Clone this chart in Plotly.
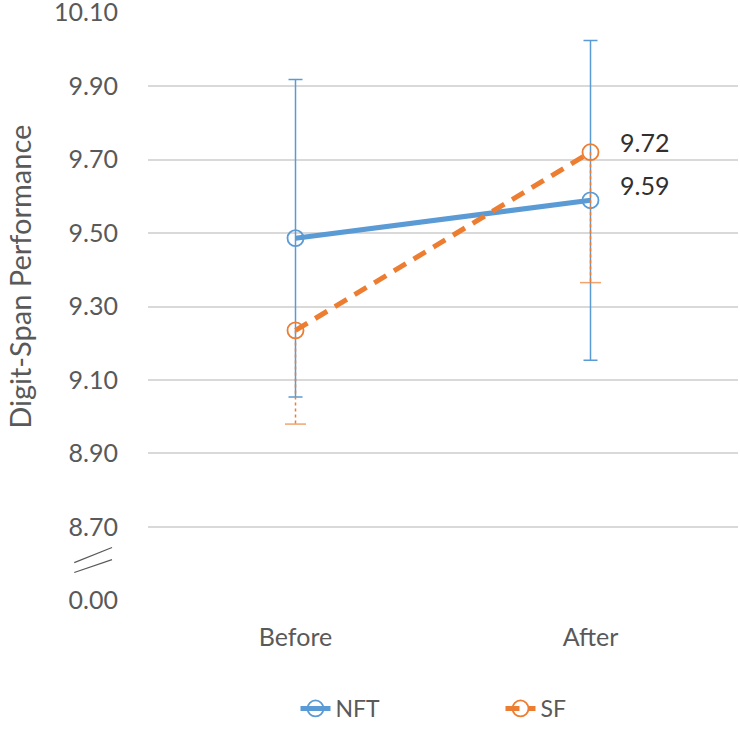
import plotly.graph_objects as go

phases = ['Before', 'After']

nft_mean = [9.486, 9.589]
nft_err = [0.432, 0.435]

sf_mean = [9.235, 9.72]
sf_err_minus = [0.255, 0.355]

# y axis is broken: the bottom gridline stands for 0.00
tick_vals = [8.5, 8.7, 8.9, 9.1, 9.3, 9.5, 9.7, 9.9, 10.1]
tick_text = ['0.00', '8.70', '8.90', '9.10', '9.30', '9.50', '9.70', '9.90', '10.10']

BLUE = '#5B9BD5'
ORANGE = '#ED7D31'
GREY = '#595959'
FONT = 'Lato, Open Sans, sans-serif'

fig = go.Figure()

fig.add_trace(go.Scatter(
    x=phases, y=nft_mean, name='NFT', mode='lines+markers',
    line=dict(color=BLUE, width=5),
    marker=dict(symbol='circle-open', size=16, color=BLUE, line=dict(width=1.8)),
    error_y=dict(type='data', array=nft_err, color=BLUE, thickness=1.5, width=7),
))

# SF has minus-only, dashed error bars
for ph, m, e in zip(phases, sf_mean, sf_err_minus):
    fig.add_trace(go.Scatter(
        x=[ph, ph], y=[m, m - e], mode='lines+markers', showlegend=False,
        line=dict(color=ORANGE, width=1.5, dash='3px,3px'),
        marker=dict(symbol='line-ew-open', size=[0, 15],
                    color=ORANGE, line=dict(width=1.5, color=ORANGE)),
        hoverinfo='skip',
    ))

fig.add_trace(go.Scatter(
    x=phases, y=sf_mean, name='SF', mode='lines+markers',
    line=dict(color=ORANGE, width=5, dash='14px,9px'),
    marker=dict(symbol='circle-open', size=16, color=ORANGE, line=dict(width=1.8)),
))

# value labels on the last point
for val, ys in ((sf_mean[1], 10), (nft_mean[1], 15)):
    fig.add_annotation(x=phases[1], y=val, text=f'{val:.2f}', showarrow=False,
                       xanchor='left', yanchor='middle', xshift=27, yshift=ys,
                       font=dict(size=25, color='#303030', family=FONT))

# y title
fig.add_annotation(xref='paper', yref='paper', x=-0.219, y=0.55,
                   xanchor='center', yanchor='middle',
                   text='Digit-Span Performance', textangle=-90, showarrow=False,
                   font=dict(size=29, color=GREY, family=FONT))

# axis break marks
for y0, y1 in ((8.603, 8.644), (8.576, 8.611)):
    fig.add_shape(type='line', xref='paper', yref='y',
                  x0=-0.125, x1=-0.061, y0=y0, y1=y1,
                  line=dict(color=GREY, width=1.2))

fig.update_layout(
    width=740, height=730,
    margin=dict(l=148, r=2, t=12, b=129),
    paper_bgcolor='white', plot_bgcolor='white',
    font=dict(family=FONT, color=GREY, size=24),
    showlegend=True,
    legend=dict(orientation='h', x=0.25, xanchor='left',
                yref='container', y=0.0, yanchor='bottom',
                font=dict(size=23, color=GREY), entrywidth=160, entrywidthmode='pixels'),
)
fig.update_xaxes(
    type='category', range=[-0.5, 1.5], showgrid=False, zeroline=False,
    automargin=False,
    ticks='outside', ticklen=14, tickcolor='rgba(0,0,0,0)',
    tickfont=dict(size=25, color=GREY),
)
fig.update_yaxes(
    range=[8.4985, 10.1015], tickvals=tick_vals, ticktext=tick_text,
    showgrid=True, gridcolor='#D9D9D9', gridwidth=1.5, zeroline=False,
    automargin=False, ticklabeloverflow='allow',
    ticks='outside', ticklen=24, tickcolor='rgba(0,0,0,0)',
    tickfont=dict(size=25, color=GREY),
)

fig.write_html('out.html', config={'displayModeBar': False},
               post_script="document.body.style.margin='0';")
